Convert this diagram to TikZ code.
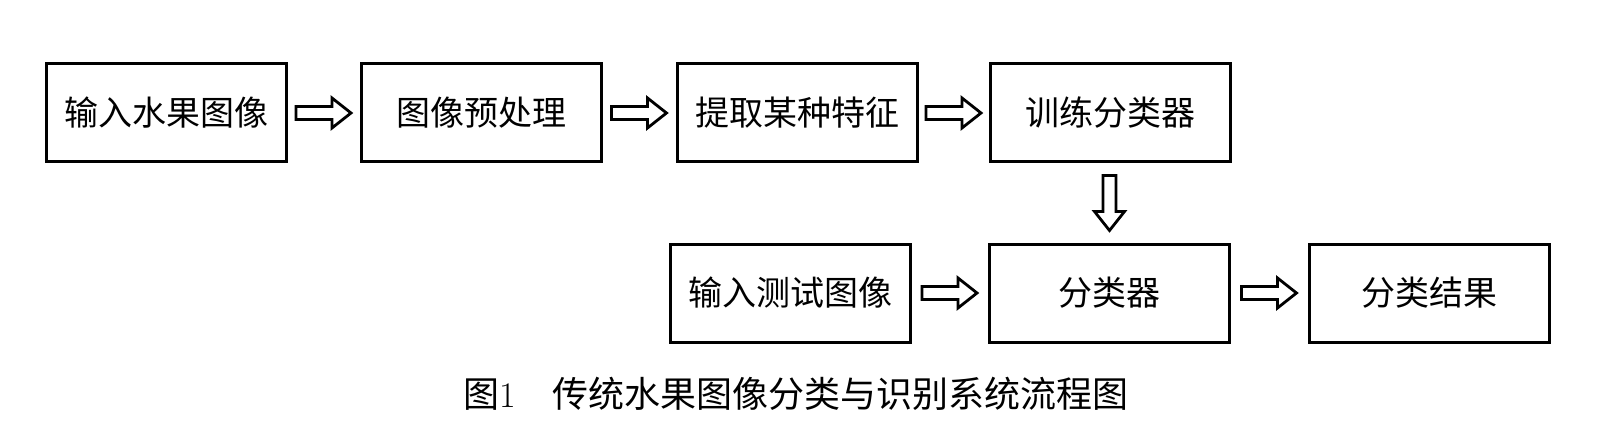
\documentclass[tikz,border=0pt]{standalone}
\usepackage{fontspec}
\newfontfamily\cjk{Noto Sans CJK SC}
\usetikzlibrary{calc,positioning}
\tikzset{
  stepbox/.style={draw, line width=1.5pt, minimum width=120pt, minimum height=49pt,
    inner sep=0pt, font=\cjk\fontsize{17}{20}\selectfont},
  hollow/.style={draw, line width=1.4pt, line join=miter},
  figcap/.style={font=\fontsize{18}{22}\selectfont}
}
% hollow block arrow half way between two anchors, #1 = direction
\newcommand\flowarrow[3][0]{%
  \path (#2) -- (#3) coordinate[midway] (mid);
  \draw[hollow, shift={(mid)}, rotate=#1]
    (-27.5,-6.5) -- (8.5,-6.5) -- (8.5,-15) -- (27.5,0)
    -- (8.5,15) -- (8.5,6.5) -- (-27.5,6.5) -- cycle;}

\begin{document}
\begin{tikzpicture}[x=0.5pt,y=-0.5pt]
\useasboundingbox (0,0) rectangle (1612,444);

% training row
\node[stepbox] (fruit) at (166,113) {输入水果图像};
\node[stepbox] (prep) at (481,113) {图像预处理};
\node[stepbox] (feat) at (797,113) {提取某种特征};
\node[stepbox] (train) at (1110,113) {训练分类器};

% test row
\node[stepbox] (test) at (790,293) {输入测试图像};
\node[stepbox] (clf) at (1109,293) {分类器};
\node[stepbox] (result) at (1429,293) {分类结果};

% arrows
\flowarrow{fruit.east}{prep.west}
\flowarrow{prep.east}{feat.west}
\flowarrow{feat.east}{train.west}
\flowarrow[-90]{train.south}{clf.north}
\flowarrow{test.east}{clf.west}
\flowarrow{clf.east}{result.west}

\node[figcap] (cap) at (796,394) {{\cjk 图}1\hspace{1em}{\cjk 传统水果图像分类与识别系统流程图}};
\end{tikzpicture}
\end{document}
